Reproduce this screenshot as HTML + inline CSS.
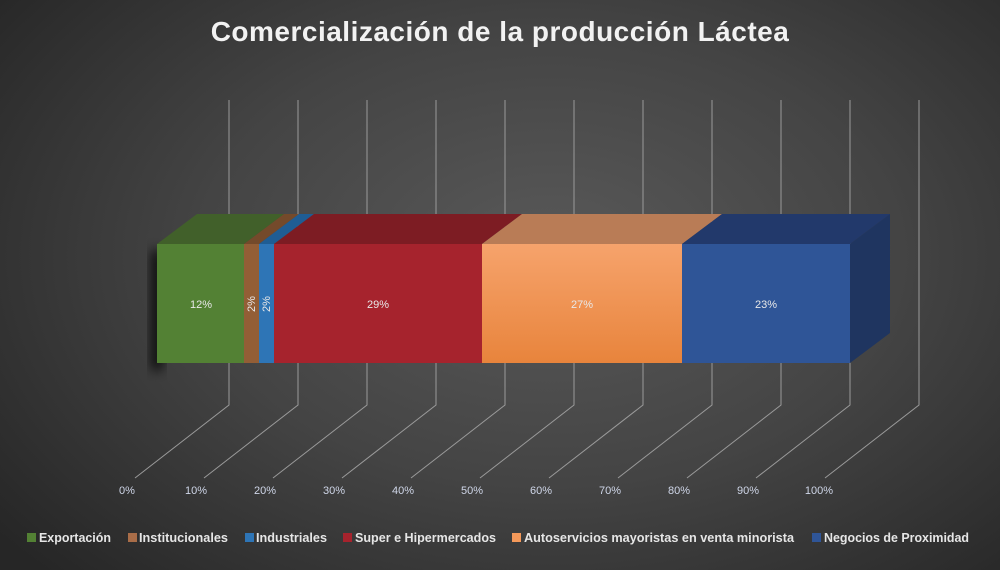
<!DOCTYPE html>
<html><head><meta charset="utf-8"><style>
body{margin:0;width:1000px;height:570px;overflow:hidden;background:radial-gradient(ellipse 70% 80% at 55% 45%,#595959 0%,#444 50%,#262626 100%);font-family:"Liberation Sans",sans-serif}
</style></head><body>
<svg width="1000" height="570" style="position:absolute;left:0;top:0">
<defs>
<linearGradient id="og" x1="0" y1="0" x2="0" y2="1"><stop offset="0" stop-color="#f6a36c"/><stop offset="1" stop-color="#e8843c"/></linearGradient>
<filter id="sh" x="-50%" y="-50%" width="200%" height="200%"><feGaussianBlur stdDeviation="6"/></filter>
</defs>
<text x="500" y="41" text-anchor="middle" fill="#f2f2f2" font-size="28" font-weight="bold" letter-spacing="0.5">Comercialización  de la producción  Láctea</text>
<g stroke="#9a9a9a" stroke-width="1" fill="none">
<path d="M229,100V405L135,478M298,100V405L204,478M367,100V405L273,478M436,100V405L342,478M505,100V405L411,478M574,100V405L480,478M643,100V405L549,478M712,100V405L618,478M781,100V405L687,478M850,100V405L756,478M919,100V405L825,478"/>
</g>
<g fill="#cfd6e8" font-size="11" text-anchor="middle">
<text x="127" y="494">0%</text><text x="196" y="494">10%</text><text x="265" y="494">20%</text><text x="334" y="494">30%</text><text x="403" y="494">40%</text><text x="472" y="494">50%</text><text x="541" y="494">60%</text><text x="610" y="494">70%</text><text x="679" y="494">80%</text><text x="748" y="494">90%</text><text x="819" y="494">100%</text>
</g>
<rect x="152" y="250" width="10" height="120" fill="#000" filter="url(#sh)"/>
<polygon points="157,244 197,214 284,214 244,244" fill="#41602a"/>
<polygon points="244,244 284,214 299,214 259,244" fill="#744a2b"/>
<polygon points="259,244 299,214 314,214 274,244" fill="#1f5d94"/>
<polygon points="274,244 314,214 522,214 482,244" fill="#7d1c23"/>
<polygon points="482,244 522,214 722,214 682,244" fill="#b97c56"/>
<polygon points="682,244 722,214 890,214 850,244" fill="#22396b"/>
<polygon points="850,244 890,214 890,333 850,363" fill="#1f3560"/>
<rect x="157" y="244" width="87" height="119" fill="#538134"/>
<rect x="244" y="244" width="15" height="119" fill="#935e36"/>
<rect x="259" y="244" width="15" height="119" fill="#2e75b6"/>
<rect x="274" y="244" width="208" height="119" fill="#a6232d"/>
<rect x="482" y="244" width="200" height="119" fill="url(#og)"/>
<rect x="682" y="244" width="168" height="119" fill="#2f5597"/>
<g fill="#e8e8e8" font-size="11" text-anchor="middle">
<text x="201" y="308">12%</text>
<text x="378" y="308">29%</text>
<text x="582" y="308">27%</text>
<text x="766" y="308">23%</text>
<text transform="translate(255,304) rotate(-90)" text-anchor="middle">2%</text>
<text transform="translate(270,304) rotate(-90)" text-anchor="middle">2%</text>
</g>
<g font-size="12.5" font-weight="bold" fill="#e6e6e6">
<rect x="27" y="533" width="9" height="9" fill="#538134"/><text x="39" y="542" textLength="72" lengthAdjust="spacingAndGlyphs">Exportación</text>
<rect x="128" y="533" width="9" height="9" fill="#a96d48"/><text x="139" y="542" textLength="89" lengthAdjust="spacingAndGlyphs">Institucionales</text>
<rect x="245" y="533" width="9" height="9" fill="#2e75b6"/><text x="256" y="542" textLength="71" lengthAdjust="spacingAndGlyphs">Industriales</text>
<rect x="343" y="533" width="9" height="9" fill="#a6232d"/><text x="355" y="542" textLength="141" lengthAdjust="spacingAndGlyphs">Super e Hipermercados</text>
<rect x="512" y="533" width="9" height="9" fill="#f4995a"/><text x="524" y="542" textLength="270" lengthAdjust="spacingAndGlyphs">Autoservicios mayoristas en venta minorista</text>
<rect x="812" y="533" width="9" height="9" fill="#2f5597"/><text x="824" y="542" textLength="145" lengthAdjust="spacingAndGlyphs">Negocios de Proximidad</text>
</g>
</svg>
</body></html>
